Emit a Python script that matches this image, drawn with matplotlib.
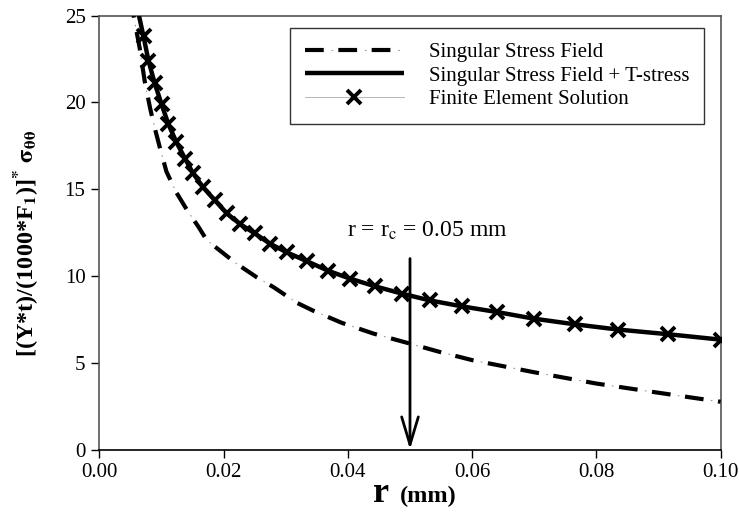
import matplotlib
matplotlib.use("Agg")
import matplotlib.pyplot as plt
from matplotlib.patches import FancyArrowPatch
from matplotlib.legend_handler import HandlerTuple

plt.rcParams['font.family'] = ['Liberation Serif', 'DejaVu Serif']
plt.rcParams['mathtext.fontset'] = 'stix'
plt.rcParams['lines.scale_dashes'] = False

# Singular stress field (dash-dot curve)
sing_r = [0.0052, 0.0055, 0.0065, 0.0073, 0.0082, 0.0090, 0.0098, 0.0108, 0.0124, 0.0141,
          0.0160, 0.0173, 0.0221, 0.0253, 0.0280, 0.0318, 0.0344, 0.0390, 0.0441, 0.0500,
          0.0548, 0.0600, 0.0700, 0.0800, 0.0900, 0.1000]
sing_y = [26.0, 25.0, 23.1, 21.2, 19.6, 18.4, 17.3, 16.0, 14.8, 13.8,
          12.8, 12.05, 10.70, 9.93, 9.36, 8.45, 8.00, 7.30, 6.68, 6.10,
          5.62, 5.15, 4.45, 3.80, 3.27, 2.75]

# Singular stress field + T-stress (solid curve)
tst_r = [0.0055, 0.0060, 0.0071, 0.0079, 0.0089, 0.0100, 0.0111, 0.0124, 0.0138, 0.0151,
         0.0167, 0.0186, 0.0205, 0.0226, 0.0250, 0.0275, 0.0302, 0.0334, 0.0368, 0.0403,
         0.0444, 0.0487, 0.0532, 0.0583, 0.0640, 0.0699, 0.0766, 0.0835, 0.0916, 0.1000]
tst_y = [26.8, 25.6, 23.8, 22.4, 21.1, 19.9, 18.75, 17.7, 16.75, 15.9,
         15.1, 14.35, 13.6, 13.0, 12.45, 11.85, 11.35, 10.85, 10.3, 9.85,
         9.40, 8.98, 8.59, 8.25, 7.92, 7.54, 7.21, 6.91, 6.64, 6.33]

# Finite element solution (x markers)
fe_r = [0.0071, 0.0079, 0.0089, 0.0100, 0.0111, 0.0124, 0.0138, 0.0151, 0.0167, 0.0186,
        0.0205, 0.0226, 0.0250, 0.0275, 0.0302, 0.0334, 0.0368, 0.0403, 0.0444, 0.0487,
        0.0532, 0.0583, 0.0640, 0.0699, 0.0766, 0.0835, 0.0916, 0.1000]
fe_y = [23.8, 22.4, 21.1, 19.9, 18.75, 17.7, 16.75, 15.9, 15.1, 14.35,
        13.6, 13.0, 12.45, 11.85, 11.35, 10.85, 10.3, 9.85, 9.40, 8.98,
        8.59, 8.25, 7.92, 7.54, 7.21, 6.91, 6.64, 6.33]

x_ticks = [0.00, 0.02, 0.04, 0.06, 0.08, 0.10]
y_ticks = [0, 5, 10, 15, 20, 25]
r_c = 0.05
arrow_top = 11.0

fig = plt.figure(figsize=(7.39, 5.21), dpi=100)
ax = fig.add_axes([0.1345, 0.1372, 0.8406, 0.8330])

l_dash, = ax.plot(sing_r, sing_y, color='black', lw=3.0, linestyle=(0, (13.5, 10.5)),
                  solid_capstyle='butt', dash_capstyle='butt', zorder=3)
l_dot, = ax.plot(sing_r, sing_y, color='#999999', lw=0.8, linestyle=(5.25, (1.2, 22.8)), zorder=3)
l_fe, = ax.plot(fe_r, fe_y, color='#aaaaaa', lw=0.6, marker='x', markersize=10,
                markeredgewidth=2.8, markeredgecolor='black', zorder=3.5)
l_tst, = ax.plot(tst_r, tst_y, color='black', lw=3.2, solid_capstyle='butt', zorder=4)

ax.set_xlim(0, 0.10)
ax.set_ylim(0, 25)
ax.set_xticks(x_ticks)
ax.set_xticklabels([f"{v:.2f}" for v in x_ticks])
ax.set_yticks(y_ticks)
ax.tick_params(direction='out', length=6, width=1, labelsize=15, color='black', pad=4)
for s in ax.spines.values():
    s.set_color('#555555')
    s.set_linewidth(1.2)
ax.spines['bottom'].set_color('black')

# x label: big bold "r" + smaller bold "(mm)"
fig.text(0.527, 0.036, 'r', fontsize=26, fontweight='bold', ha='right', va='baseline')
fig.text(0.541, 0.036, '(mm)', fontsize=17.5, fontweight='bold', ha='left', va='baseline')

ax.set_ylabel(r'[(Y*t)/(1000*F$_\mathbf{1}$)]$^\mathbf{*}$ $\mathbf{\sigma_{\theta\theta}}$',
              fontsize=17.5, fontweight='bold')
ax.yaxis.set_label_coords(-0.095, 0.475)

# vertical arrow at r = r_c
arr = FancyArrowPatch((r_c, arrow_top), (r_c, 0), arrowstyle='->,head_length=20,head_width=6',
                      mutation_scale=1, lw=2.0, color='black', zorder=6, shrinkA=0, shrinkB=0)
ax.add_patch(arr)
ax.text(0.0399, 12.6, r'r = r$_\mathrm{c}$ = 0.05 mm', fontsize=17, ha='left', va='center')

leg = ax.legend([(l_dash, l_dot), l_tst, l_fe],
                ['Singular Stress Field', 'Singular Stress Field + T-stress', 'Finite Element Solution'],
                loc='upper right', bbox_to_anchor=(0.973, 0.971), borderaxespad=0,
                fontsize=15, frameon=True, fancybox=False, edgecolor='black',
                handlelength=4.75, handletextpad=1.2, labelspacing=0.18, borderpad=0.7,
                handler_map={tuple: HandlerTuple(ndivide=1)})
leg.get_frame().set_linewidth(1.0)

fig.savefig('out.png', dpi=100)
